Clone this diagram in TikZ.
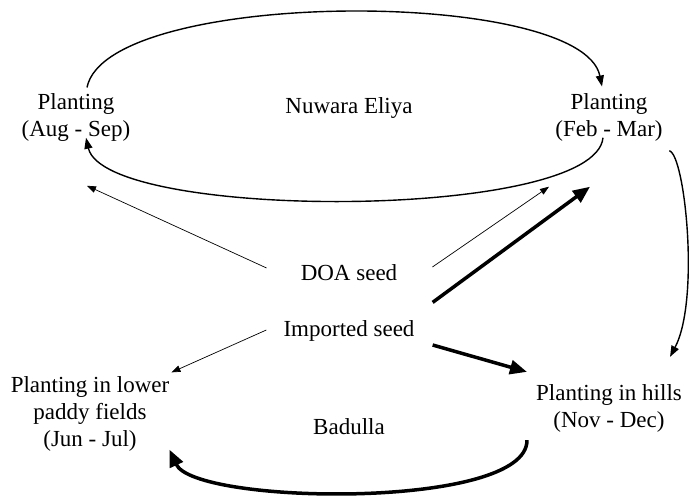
\documentclass[tikz,border=0pt]{standalone}
\usepackage{fontspec}
\setmainfont{Liberation Serif}
\usetikzlibrary{arrows.meta}
\begin{document}
\begin{tikzpicture}[x=1pt,y=-1pt,
    lbl/.style={font=\fontsize{23}{27}\selectfont,align=center,inner sep=2pt},
    seedline/.style={line width=0.7pt,-{Triangle[length=9pt,width=6.5pt]}},
    cycleline/.style={line width=1.4pt,-{Triangle[length=11pt,width=8pt]}},
    bigline/.style={line width=3.5pt,-{Triangle[length=17pt,width=14pt]}}]
    \useasboundingbox (0,0) rectangle (689,499);
    % Nuwara Eliya cycle
    \node[lbl] (aug) at (76,117.6) {Planting\\(Aug - Sep)};
    \node[lbl] (feb) at (609,117.6) {Planting\\(Feb - Mar)};
    \node[lbl] (nuwara) at (349,108) {Nuwara Eliya};
    % seed sources
    \node[lbl] (doa) at (349,273) {DOA seed};
    \node[lbl] (imp) at (349,331) {Imported seed};
    % Badulla cycle
    \node[lbl] (low) at (90,414) {Planting in lower\\paddy fields\\(Jun - Jul)};
    \node[lbl] (hill) at (609,408) {Planting in hills\\(Nov - Dec)};
    \node[lbl] (badulla) at (349,427) {Badulla};
    % arcs between seasons
    \draw[cycleline] ([shift={(11,-4)}]aug.north) .. controls (107,-12) and (582,-13) .. ([shift={(-7,-5)}]feb.north);
    \draw[cycleline] ([shift={(-6,-6)}]feb.south) .. controls (595,221) and (105,221) .. ([shift={(10,-6)}]aug.south);
    \draw[cycleline] ([shift={(4.5,7)}]feb.south east) .. controls (685,155) and (700,300) .. ([shift={(-14,-25)}]hill.north east);
    \draw[bigline] ([shift={(-7,6)}]hill.south west) .. controls (528,510) and (195,505) .. ([shift={(-2,-4)}]low.south east);
    % seed flows
    \draw[seedline] ([shift={(-32,-5)}]doa.west) -- ([shift={(11,42)}]aug.south);
    \draw[seedline] ([shift={(33,-6)}]doa.east) -- ([shift={(-60,43)}]feb.south);
    \draw[bigline] ([shift={(16,-16)}]imp.north east) -- ([shift={(-19,43)}]feb.south);
    \draw[seedline] ([shift={(-15,-1)}]imp.west) -- ([shift={(0,-2)}]low.north east);
    \draw[bigline] ([shift={(16,14)}]imp.east) -- ([shift={(-7,-10)}]hill.north west);
\end{tikzpicture}
\end{document}
